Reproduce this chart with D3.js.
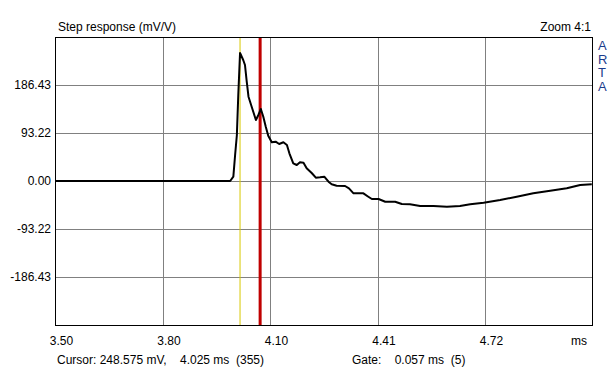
<!DOCTYPE html>
<html><head><meta charset="utf-8">
<script src="https://cdn.jsdelivr.net/npm/d3@7"></script>
<style>
body{margin:0;background:#fff}
svg{display:block}
text{font-family:"Liberation Sans",Arial,sans-serif;font-size:12px;fill:#000}
</style>
</head><body><svg id="c" width="614" height="370"></svg>
<script>
// ---- data (time in ms, step response in mV/V) ----
const timeMs = [3.500,3.997,4.006,4.011,4.016,4.020,4.025,4.034,4.039,4.044,4.049,4.058,4.070,4.077,4.084,4.091,4.098,4.105,4.115,4.126,4.136,4.148,4.158,4.165,4.176,4.186,4.195,4.205,4.214,4.229,4.240,4.252,4.264,4.276,4.285,4.299,4.323,4.334,4.347,4.375,4.389,4.399,4.418,4.437,4.465,4.484,4.507,4.536,4.574,4.612,4.649,4.678,4.716,4.763,4.810,4.857,4.905,4.952,4.990,5.023];
const stepMv = [0,0,8.4,50.5,89.3,167.0,248.575,235.0,225.3,192.8,163.7,144.3,118.5,128.2,139.8,124.9,105.4,88.0,75.2,76.3,71.9,75.2,69.9,53.8,34.4,31.1,36.3,35.5,24.7,15.0,6.4,7.2,8.4,-1.4,-6.4,-9.1,-9.7,-14.2,-23.9,-23.9,-30.5,-35.0,-35.0,-40.2,-40.2,-44.7,-45.2,-48.6,-48.6,-49.9,-48.6,-45.2,-42.1,-36.9,-30.5,-23.9,-18.8,-14.2,-7.8,-6.4];
const xTickValues = [3.5, 3.805, 4.11, 4.415, 4.72];
const xTickLabels = ["3.50","3.80","4.10","4.41","4.72"];
const yTickValues = [186.43, 93.22, 0, -93.22, -186.43];
const yTickLabels = ["186.43","93.22","0.00","-93.22","-186.43"];
const cursorMs = 4.025;
const gateMs = 0.057;
const sideLetters = ["A","R","T","A"];

// ---- layout ----
const L = 55, R = 592.5, T = 37, B = 325;
const svg = d3.select("#c");
const x = d3.scaleLinear().domain([3.5, 5.025]).range([L, R]);
const y = d3.scaleLinear().domain([-279.645, 279.645]).range([B, T]);

// grid via axes
const gx = svg.append("g").attr("transform", `translate(0,${B})`)
  .call(d3.axisBottom(x).tickValues(xTickValues).tickSize(-(B - T)).tickPadding(11)
    .tickFormat((d, i) => xTickLabels[i]));
gx.select(".domain").remove();
gx.selectAll(".tick line").attr("stroke", "#808080").attr("shape-rendering", "crispEdges")
  .filter((d, i) => i === 0).remove();
gx.selectAll(".tick text").attr("font-size", 12).attr("font-family", null).attr("dx", 6).attr("fill", "#000");

const gy = svg.append("g").attr("transform", `translate(${L},0)`)
  .call(d3.axisLeft(y).tickValues(yTickValues).tickSize(-(R - L)).tickPadding(4)
    .tickFormat((d, i) => yTickLabels[i]));
gy.select(".domain").remove();
gy.selectAll(".tick line").attr("stroke", "#808080").attr("shape-rendering", "crispEdges");
gy.selectAll(".tick text").attr("font-size", 12).attr("font-family", null).attr("fill", "#000");

// clip
svg.append("clipPath").attr("id", "clip").append("rect")
  .attr("x", L).attr("y", T).attr("width", R - L).attr("height", B - T);
const plot = svg.append("g").attr("clip-path", "url(#clip)");

// cursor lines
plot.append("line").attr("x1", x(cursorMs)).attr("x2", x(cursorMs)).attr("y1", T).attr("y2", B)
  .attr("stroke", "#d8c800").attr("stroke-width", 1);
plot.append("line").attr("x1", x(cursorMs + gateMs)).attr("x2", x(cursorMs + gateMs)).attr("y1", T).attr("y2", B)
  .attr("stroke", "#c00000").attr("stroke-width", 3);

// curve
const pts = timeMs.map((t, i) => [t, stepMv[i]]);
plot.append("path").datum(pts)
  .attr("d", d3.line().x(d => x(d[0])).y(d => y(d[1])))
  .attr("fill", "none").attr("stroke", "#000").attr("stroke-width", 2).attr("stroke-linejoin", "round");

// frame
svg.append("rect").attr("x", L + 0.5).attr("y", T + 0.5).attr("width", R - L - 0.5).attr("height", B - T)
  .attr("fill", "none").attr("stroke", "#000").attr("stroke-width", 1);

// texts
svg.append("text").attr("x", 58).attr("y", 31).text("Step response (mV/V)");
svg.append("text").attr("x", 591).attr("y", 31).attr("text-anchor", "end").text("Zoom 4:1");
svg.append("text").attr("x", 587).attr("y", 344.5).attr("text-anchor", "end").text("ms");
sideLetters.forEach((c, i) => {
  svg.append("text").attr("x", 598).attr("y", 50 + i * 13.6)
    .style("fill", "#1b3c8c").style("font-size", "13px").text(c);
});
svg.append("text").attr("x", 57).attr("y", 363.5).style("white-space", "pre")
  .text(`Cursor: 248.575 mV,    ${cursorMs.toFixed(3)} ms  (355)`);
svg.append("text").attr("x", 352).attr("y", 363.5).style("white-space", "pre")
  .text(`Gate:    ${gateMs.toFixed(3)} ms  (5)`);
</script>
</body></html>
